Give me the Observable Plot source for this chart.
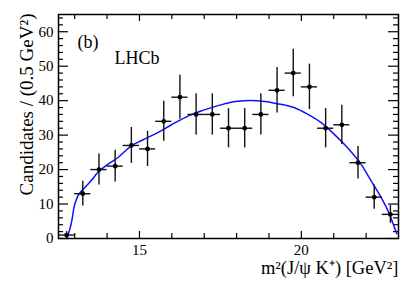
<!DOCTYPE html>
<html>
<head>
<meta charset="utf-8">
<script src="https://cdn.jsdelivr.net/npm/d3@7"></script>
<script src="https://cdn.jsdelivr.net/npm/@observablehq/plot@0.6"></script>
<style>
  html, body { margin: 0; padding: 0; background: #fff; }
  #chart svg { display: block; }
</style>
</head>
<body>
<div id="chart"></div>
<script>
// Data points (bin centres, candidates, errors)
const binX = [12.75, 13.25, 13.75, 14.25, 14.75, 15.25, 15.75, 16.25, 16.75, 17.25, 17.75, 18.25, 18.75, 19.25, 19.75, 20.25, 20.75, 21.25, 21.75, 22.25, 22.75];
const counts = [1, 13, 20, 21, 27, 26, 34, 41, 36, 36, 32, 32, 36, 43, 48, 44, 32, 33, 22, 12, 7];
const errors = [1, 3.6, 4.5, 4.6, 5.2, 5.1, 5.8, 6.4, 6, 6, 5.7, 5.7, 6, 6.6, 6.9, 6.6, 5.7, 5.7, 4.7, 3.5, 2.6];
const binHalfWidth = 0.25;

// Fit curve
const fitX = [12.76, 12.82, 12.89, 12.94, 12.98, 13.04, 13.1, 13.2, 13.31, 13.51, 13.72, 14.03, 14.34, 14.75, 15.17, 15.58, 15.99, 16.51, 16.9, 17.3, 17.6, 17.9, 18.22, 18.64, 18.95, 19.26, 19.5, 19.77, 20.19, 20.6, 21.01, 21.42, 21.84, 22.15, 22.46, 22.72, 22.87, 22.95];
const fitY = [0, 1.8, 4.2, 6.8, 9.1, 11.0, 12.4, 13.7, 14.7, 16.8, 19.2, 21.6, 23.5, 26.9, 28.9, 30.8, 33.0, 35.6, 37.0, 38.2, 39.0, 39.7, 40.0, 40.0, 39.7, 39.1, 38.7, 38.0, 36.1, 33.7, 30.3, 26.4, 21.6, 16.8, 12.0, 7.1, 3.3, 1.4];

// Axes ticks
const xMajor = [15, 20];
const xMinor = [13, 14, 16, 17, 18, 19, 21, 22];
const yMajor = [0, 10, 20, 30, 40, 50, 60];
const yMinor = [2, 4, 6, 8, 12, 14, 16, 18, 22, 24, 26, 28, 32, 34, 36, 38, 42, 44, 46, 48, 52, 54, 56, 58, 62, 64];

const yLabel = "Candidates / (0.5 GeV²)";
const xLabel = "m²(J/ψ K⁺) [GeV²]";
const panelLabel = "(b)";
const expLabel = "LHCb";

const points = binX.map((x, i) => ({x, y: counts[i], e: errors[i]}));
const fit = fitX.map((x, i) => ({x, y: fitY[i]}));
const font = '"Liberation Serif", "Times New Roman", serif';

const W = 419, H = 284, mL = 58, mR = 21, mT = 14, mB = 46;
const plotW = W - mL - mR, plotH = H - mT - mB;
const tickStyle = {stroke: "#000", strokeWidth: 1.2};

const chart = Plot.plot({
  width: W,
  height: H,
  marginLeft: mL,
  marginRight: mR,
  marginTop: mT,
  marginBottom: mB,
  style: {fontFamily: font, fontSize: "15px", color: "#000", background: "#fff"},
  x: {domain: [12.5, 23]},
  y: {domain: [0, 65]},
  marks: [
    // tick labels
    Plot.axisY({ticks: yMajor, tickSize: 0, tickPadding: 5, label: null, fontSize: 15}),
    Plot.axisX({ticks: xMajor, tickSize: 0, tickPadding: 6, label: null, fontSize: 15}),
    // inward ticks (bottom / top)
    Plot.tickX(xMajor, {x: d => d, insetTop: plotH - 7, ...tickStyle}),
    Plot.tickX(xMinor, {x: d => d, insetTop: plotH - 5, ...tickStyle}),
    Plot.tickX(xMajor, {x: d => d, insetBottom: plotH - 7, ...tickStyle}),
    Plot.tickX(xMinor, {x: d => d, insetBottom: plotH - 5, ...tickStyle}),
    // inward ticks (left / right)
    Plot.tickY(yMajor, {y: d => d, insetRight: plotW - 10, ...tickStyle}),
    Plot.tickY(yMinor, {y: d => d, insetRight: plotW - 5, ...tickStyle}),
    Plot.tickY(yMajor, {y: d => d, insetLeft: plotW - 10, ...tickStyle}),
    Plot.tickY(yMinor, {y: d => d, insetLeft: plotW - 5, ...tickStyle}),
    // fit
    Plot.line(fit, {x: "x", y: "y", stroke: "#1010ff", strokeWidth: 1.5, curve: "catmull-rom"}),
    // error bars
    Plot.ruleX(points, {x: "x", y1: d => d.y - d.e, y2: d => d.y + d.e, stroke: "#111", strokeWidth: 1.4}),
    Plot.ruleY(points, {y: "y", x1: d => d.x - binHalfWidth, x2: d => d.x + binHalfWidth, stroke: "#111", strokeWidth: 1.4}),
    Plot.dot(points, {x: "x", y: "y", r: 2.4, fill: "#000", stroke: null}),
    // frame
    Plot.frame({stroke: "#000", strokeWidth: 1.5}),
    // labels
    Plot.text([yLabel], {frameAnchor: "top-left", rotate: -90, textAnchor: "end", dx: -39.5, dy: -1, fontSize: 19, fill: "#000"}),
    Plot.text([xLabel], {frameAnchor: "bottom-right", textAnchor: "end", dx: 0, dy: 35.5, fontSize: 18.5, fill: "#000"}),
    Plot.text([panelLabel], {frameAnchor: "top-left", textAnchor: "start", dx: 19, dy: 21, fontSize: 18, fill: "#000"}),
    Plot.text([expLabel], {frameAnchor: "top-left", textAnchor: "start", dx: 56, dy: 37, fontSize: 18, fill: "#000"})
  ]
});
d3.select(chart).attr("font-family", font).style("font-family", font);
d3.select(chart).selectAll("g, text").attr("font-family", font).style("font-family", font);
document.getElementById("chart").appendChild(chart);
</script>
</body>
</html>
